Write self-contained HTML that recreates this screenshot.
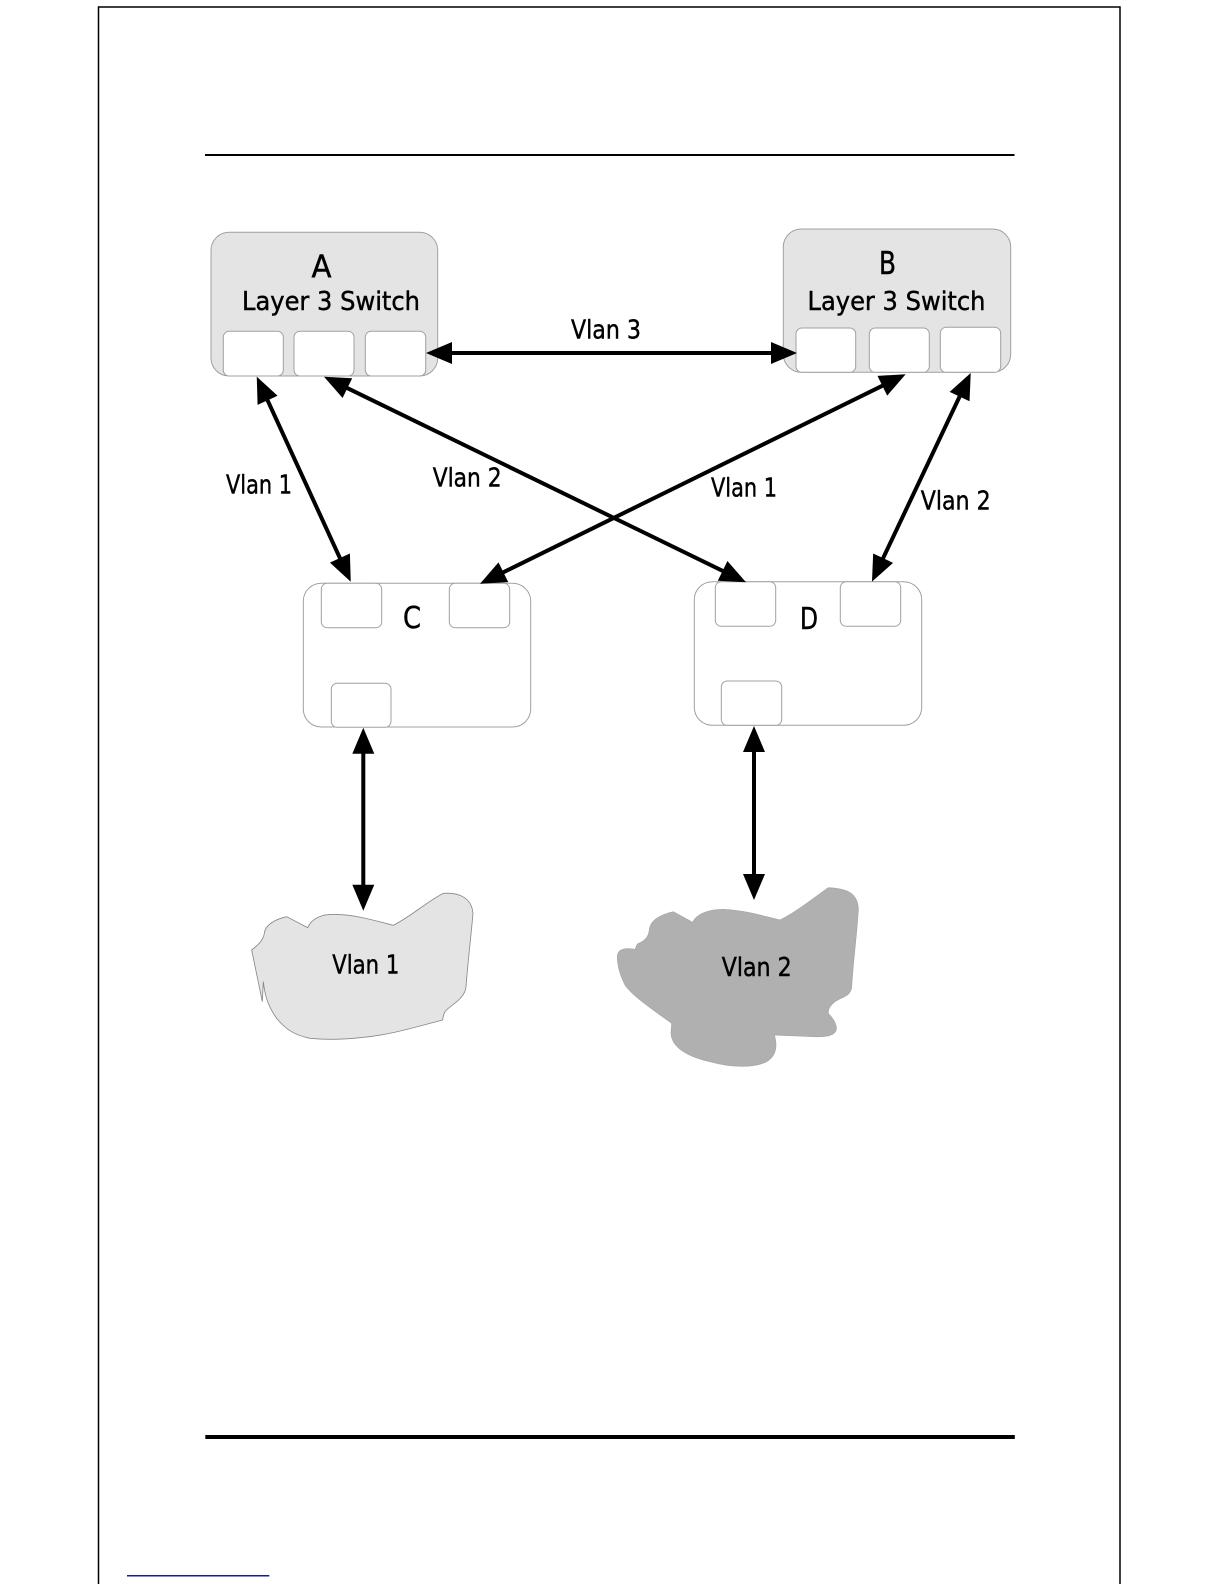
<!DOCTYPE html>
<html>
<head>
<meta charset="utf-8">
<style>
html,body{margin:0;padding:0;background:#fff;width:1224px;height:1584px;overflow:hidden}
svg{display:block}
text{font-family:"DejaVu Sans","Liberation Sans",sans-serif;fill:#000;stroke:#000;stroke-width:.45}
</style>
</head>
<body>
<svg width="1224" height="1584" viewBox="0 0 1224 1584" xmlns="http://www.w3.org/2000/svg">
<defs>
<marker id="a" markerWidth="27" markerHeight="23" refX="11" refY="11" orient="auto-start-reverse" markerUnits="userSpaceOnUse" overflow="visible">
<path d="M0 0L26 11L0 22Z" fill="#000"/>
</marker>
</defs>
<path d="M98.500 1584V7H1120V1584" fill="none" stroke="#000" stroke-width="1.500"/>
<rect x="205" y="154" width="809.500" height="2" fill="#000"/>
<rect x="205.300" y="1435" width="809.500" height="4" fill="#000"/>
<rect x="127" y="1575" width="142.300" height="1.500" fill="#1a1a8c"/>

<g stroke="#a0a0a0" stroke-width="1">
<rect x="211" y="232.300" width="226.700" height="143.700" rx="18" fill="#e4e4e4"/>
<rect x="783.300" y="229" width="227.400" height="143.300" rx="18" fill="#e4e4e4"/>
<g fill="#fff">
<rect x="223.300" y="331.300" width="60" height="44.700" rx="6"/>
<rect x="294" y="331.300" width="60" height="44.700" rx="6"/>
<rect x="365.300" y="331.300" width="60.400" height="44.700" rx="6"/>
<rect x="796" y="328" width="59.700" height="44.300" rx="6"/>
<rect x="869.300" y="328" width="60" height="44.300" rx="6"/>
<rect x="940.300" y="327.300" width="60.400" height="45" rx="6"/>
<rect x="303.300" y="583.300" width="227.400" height="143.700" rx="18"/>
<rect x="694.300" y="581.700" width="227.400" height="143.600" rx="18"/>
<rect x="321.300" y="583.300" width="60.400" height="44.400" rx="6"/>
<rect x="449.300" y="583.300" width="60.400" height="44.400" rx="6"/>
<rect x="331.300" y="683.300" width="59.700" height="44" rx="6"/>
<rect x="715.300" y="581.700" width="60.400" height="44.600" rx="6"/>
<rect x="840.300" y="581.700" width="60.400" height="44.600" rx="6"/>
<rect x="721.300" y="681" width="60.400" height="44.300" rx="6"/>
</g>
</g>

<g transform="translate(230 860) scale(.33333)">
<path d="M65 270C85 255 100 240 103 220C105 195 135 178 170 170L233 203C245 175 275 163 310 163C370 163 430 180 490 196C550 165 590 125 640 100C690 97 725 115 729 160C725 210 715 290 708 380C705 410 680 425 655 445C642 455 640 465 638 480C560 500 480 525 400 532C350 538 290 540 240 535C190 525 165 505 140 475C115 440 105 410 100 365L97 425Z" fill="#e4e4e4" stroke="#888" stroke-width="2.500"/>
</g>
<g transform="translate(590 860) scale(.33333)">
<path d="M82 290C82 268 105 262 135 268L142 252C160 245 175 235 178 210C180 180 215 163 250 155L308 187C320 160 360 148 400 148C460 150 520 168 570 180C620 155 670 115 715 83C770 85 805 100 805 150C800 230 790 300 785 380C783 410 755 410 735 425C720 437 712 450 716 462C735 480 742 500 738 512C730 530 700 531 670 530L553 525C562 555 562 585 530 605C490 625 420 622 360 605C290 590 245 560 243 520L245 490C190 450 130 410 105 375C90 345 82 320 82 290Z" fill="#b0b0b0" stroke="#a5a5a5" stroke-width="2"/>
</g>

<g stroke="#000" stroke-width="4" fill="none" marker-start="url(#a)" marker-end="url(#a)">
<line x1="441" y1="353" x2="782" y2="353"/>
<line x1="263" y1="390.300" x2="344.500" y2="568.100"/>
<line x1="337.500" y1="383.300" x2="732.500" y2="575.700"/>
<line x1="892.200" y1="380.900" x2="493.500" y2="577.100"/>
<line x1="964.300" y1="386.600" x2="878.400" y2="568.100"/>
<line x1="363.300" y1="742.700" x2="363.300" y2="895.700"/>
<line x1="754" y1="741" x2="754" y2="885"/>
</g>

<g font-size="26">
<text x="311.500" y="277.700" font-size="31" textLength="20" lengthAdjust="spacingAndGlyphs">A</text>
<text x="879" y="274" font-size="31" textLength="17" lengthAdjust="spacingAndGlyphs">B</text>
<text x="403" y="628" font-size="30" textLength="18" lengthAdjust="spacingAndGlyphs">C</text>
<text x="800" y="629" font-size="30" textLength="18" lengthAdjust="spacingAndGlyphs">D</text>
<text x="242" y="310" textLength="178" lengthAdjust="spacingAndGlyphs">Layer 3 Switch</text>
<text x="807.500" y="310" textLength="178" lengthAdjust="spacingAndGlyphs">Layer 3 Switch</text>
<text x="571" y="338.300" textLength="70" lengthAdjust="spacingAndGlyphs">Vlan 3</text>
<text x="226" y="493.300" textLength="66" lengthAdjust="spacingAndGlyphs">Vlan 1</text>
<text x="432.700" y="486.700" textLength="69" lengthAdjust="spacingAndGlyphs">Vlan 2</text>
<text x="711" y="496.700" textLength="66" lengthAdjust="spacingAndGlyphs">Vlan 1</text>
<text x="920.700" y="509.300" textLength="70" lengthAdjust="spacingAndGlyphs">Vlan 2</text>
<text x="332.300" y="973.300" textLength="67" lengthAdjust="spacingAndGlyphs">Vlan 1</text>
<text x="721.700" y="976" textLength="70" lengthAdjust="spacingAndGlyphs">Vlan 2</text>
</g>
</svg>
</body>
</html>
